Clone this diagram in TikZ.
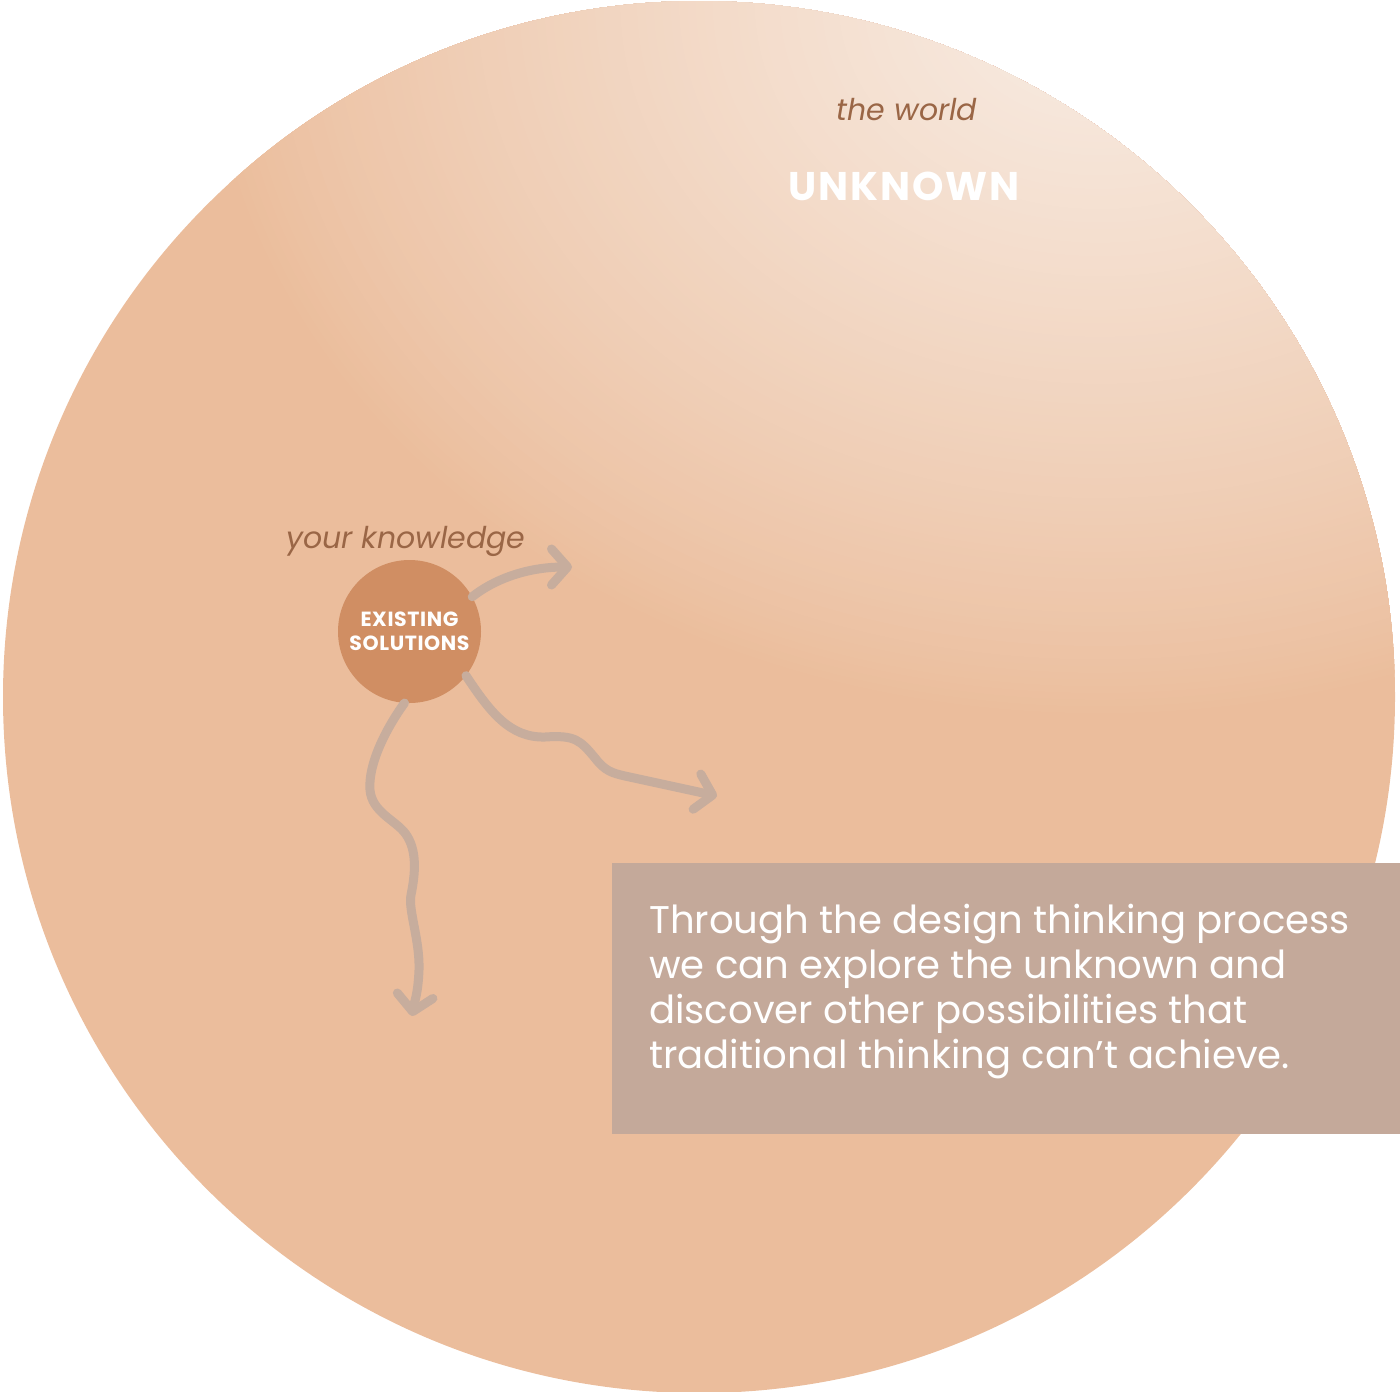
\documentclass[tikz,border=0pt]{standalone}
\usepackage{fontspec}
\setmainfont{Poppins}
\usetikzlibrary{arrows.meta}
\definecolor{peach}{HTML}{EBBD9C}
\definecolor{lightc}{HTML}{F7EAE0}
\definecolor{knob}{HTML}{D08E63}
\definecolor{arrowc}{HTML}{C7AD9D}
\definecolor{boxc}{HTML}{C4A99A}
\definecolor{brownt}{HTML}{9A6646}
\begin{document}
\begin{tikzpicture}[x=1pt,y=-1pt,
  flow/.style={draw=arrowc, line width=9pt, line cap=round, line join=round,
    -{Straight Barb[length=16pt,width=36pt,round]}},
  label text/.style={text=brownt, font=\itshape\fontsize{30}{36}\selectfont, inner sep=0pt, anchor=base},
  head text/.style={text=white, font=\bfseries\fontsize{40}{48}\selectfont\addfontfeature{LetterSpace=5}, inner sep=0pt, anchor=base}]
\useasboundingbox (0,0) rectangle (1400,1392);
% big circle with radial-like gradient
\begin{scope}
  \clip (699,697) circle (696);
  \fill[peach] (0,0) rectangle (1400,1392);
  \begin{scope}[shift={(1100,0)}, yscale=0.8]
    \foreach \i in {0,...,100} {
      \pgfmathsetmacro\rr{900-8.4*\i}
      \pgfmathsetmacro\fr{100*(\i/100)^0.85}
      \fill[lightc!\fr!peach] (0,0) circle (\rr);
    }
  \end{scope}
\end{scope}
% labels
\node[label text] (world) at (907,120) {the world};
\node[head text] (unknown) at (904,200) {UNKNOWN};
\node[label text] (know) at (406,548) {your knowledge};
% existing solutions
\node[circle, fill=knob, minimum size=143pt, inner sep=0pt, text=white,
  font=\bfseries\fontsize{20.5}{24}\selectfont\addfontfeature{LetterSpace=3}, align=center] (es) at (409.5,631.5) {EXISTING\\SOLUTIONS};
% arrows
\coordinate (a1end) at (572,567);
\coordinate (a2end) at (717,796);
\coordinate (a3end) at (412,1016);
\draw[flow] (es.29) .. controls (500,575) and (535,567) .. (a1end);
\draw[flow] (es.-38) .. controls (490,712) and (510,738) .. (545,737)
  .. controls (575,735) and (580,740) .. (595,758)
  .. controls (605,771) and (612,773) .. (625,776) -- (a2end);
\draw[flow] (es.-94) .. controls (385,730) and (368,765) .. (370,790)
  .. controls (372,812) and (395,820) .. (405,833)
  .. controls (418,850) and (415,875) .. (411,895)
  .. controls (408,910) and (420,940) .. (419,970)
  .. controls (418,995) and (414,1003) .. (a3end);
% text box
\node[fill=boxc, anchor=north west, minimum width=788pt, minimum height=271pt, inner sep=0pt] (box) at (612,863) {};
\node[anchor=base west, inner sep=0pt, text=white, align=left,
  font=\fontsize{38.6}{45}\selectfont] (body) at (649,1068)
  {Through the design thinking process\\we can explore the unknown and\\discover other possibilities that\\traditional thinking can’t achieve.};
\end{tikzpicture}
\end{document}
